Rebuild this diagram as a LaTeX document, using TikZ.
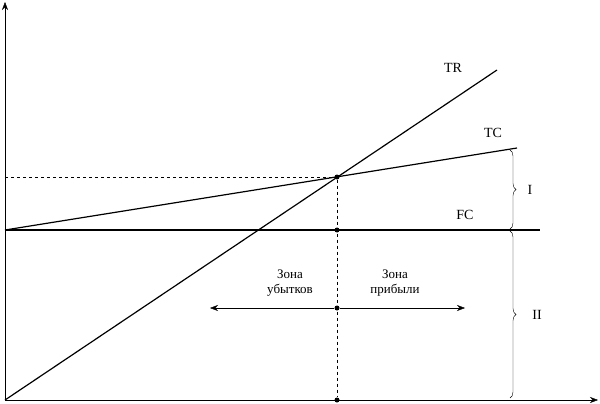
\documentclass[tikz,border=0pt]{standalone}
\usepackage{fontspec}
\setmainfont{Liberation Serif}
\usetikzlibrary{arrows.meta,decorations.pathreplacing}
\tikzset{
  line/.style={line width=1.2pt},
  dot/.style={circle, fill, inner sep=0pt, minimum size=5pt},
  lbl/.style={font=\fontsize{14}{16}\selectfont},
  zone/.style={font=\fontsize{13}{15}\selectfont, align=center},
  brace/.style={decorate, decoration={brace, amplitude=6pt}, thin}
}
\begin{document}
\begin{tikzpicture}[x=1pt, y=-1pt]
  \useasboundingbox (0,0) rectangle (600,404);
  % Axes
  \coordinate (o) at (5,400);
  \coordinate (ytop) at (5,2);
  \coordinate (xend) at (598,400);
  \draw[-{Stealth[length=8pt]}] (o) -- (ytop);
  \draw[-{Stealth[length=8pt]}] (o) -- (xend);
  % Points
  \coordinate (fc0) at (5,230);
  \coordinate (fc1) at (540,230);
  \coordinate (tc1) at (517,148);
  \coordinate (tr1) at (497,70);
  \coordinate (yq) at (5,177);
  \node (be) [dot] at (337,177) {};
  \node (bf) [dot] at (337,230) {};
  \node (bz) [dot] at (337,308) {};
  \node (bx) [dot] at (337,400) {};
  \coordinate (zl) at (210,308);
  \coordinate (zr) at (465,308);
  % Lines
  \draw[line] (o) -- (tr1);
  \draw[line] (fc0) -- (tc1);
  \draw[line] (fc0) -- (fc1);
  \draw[dashed] (yq) -- (be);
  \draw[dashed] (be) -- (bx);
  \draw[-{Stealth[length=8pt]}] (bz) -- (zl);
  \draw[-{Stealth[length=8pt]}] (bz) -- (zr);
  % Labels
  \node (tr) [lbl] at (453,68) {TR};
  \node (tc) [lbl] at (493,133) {TC};
  \node (fc) [lbl] at (465,215) {FC};
  \node (loss) [zone] at (290,283) {Зона\\убытков};
  \node (gain) [zone] at (395,283) {Зона\\прибыли};
  % Braces
  \draw[brace] (510,150) -- (510,229);
  \draw[brace] (510,231) -- (510,398);
  \node (i) [lbl] at (530,190) {I};
  \node (ii) [lbl] at (537,315) {II};
\end{tikzpicture}
\end{document}
